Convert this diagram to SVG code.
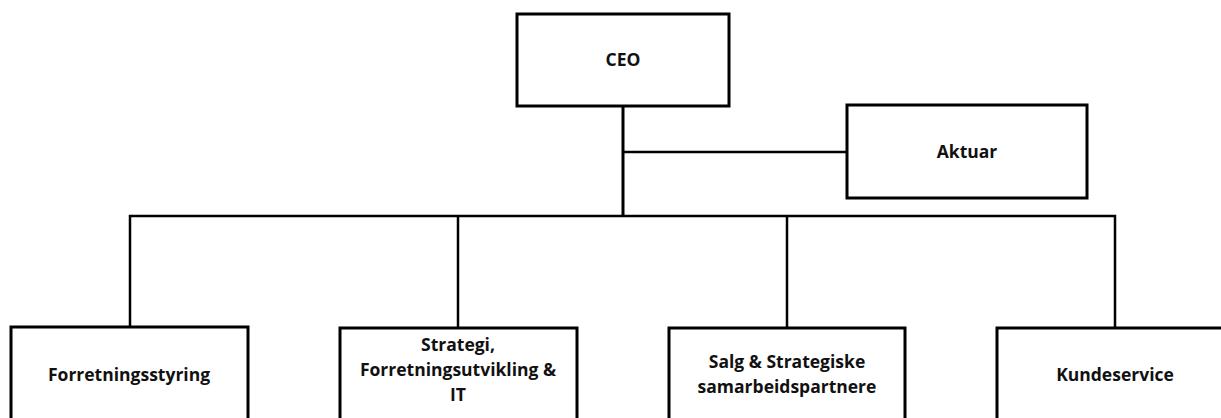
<svg xmlns="http://www.w3.org/2000/svg" width="1221" height="418" viewBox="0 0 1221 418">
<style>
.box{fill:#fff;stroke:#000;stroke-width:3}
.t{font-family:"Open Sans","Liberation Sans",sans-serif;font-weight:bold;font-size:17.5px;fill:#111;text-anchor:middle}
.c{fill:none;stroke:#000;stroke-width:3}
.c2{fill:none;stroke:#000;stroke-width:2.5}
</style>
<rect width="1221" height="418" fill="#fff"/>
<g id="connectors">
<line class="c" x1="623" y1="106" x2="623" y2="217"/>
<line class="c2" x1="623" y1="152" x2="847" y2="152"/>
<polyline class="c2" points="130,327 130,216 1115,216 1115,327"/>
<line class="c2" x1="458" y1="216" x2="458" y2="327"/>
<line class="c2" x1="787" y1="216" x2="787" y2="327"/>
</g>
<g id="ceo"><rect class="box" x="517" y="14" width="212" height="92"/><text class="t" x="623" y="66">CEO</text></g>
<g id="aktuar"><rect class="box" x="847" y="105" width="240" height="93"/><text class="t" x="967" y="158">Aktuar</text></g>
<g id="forretningsstyring"><rect class="box" x="11" y="327" width="237" height="100"/><text class="t" x="129" y="381">Forretningsstyring</text></g>
<g id="strategi"><rect class="box" x="340" y="328" width="237" height="100"/><text class="t" x="458" y="351">Strategi,</text><text class="t" x="458" y="376">Forretningsutvikling &amp;</text><text class="t" x="458" y="401">IT</text></g>
<g id="salg"><rect class="box" x="669" y="328" width="236" height="100"/><text class="t" x="787" y="368">Salg &amp; Strategiske</text><text class="t" x="787" y="393">samarbeidspartnere</text></g>
<g id="kundeservice"><rect class="box" x="997" y="328" width="237" height="100"/><text class="t" x="1115" y="381">Kundeservice</text></g>
</svg>
